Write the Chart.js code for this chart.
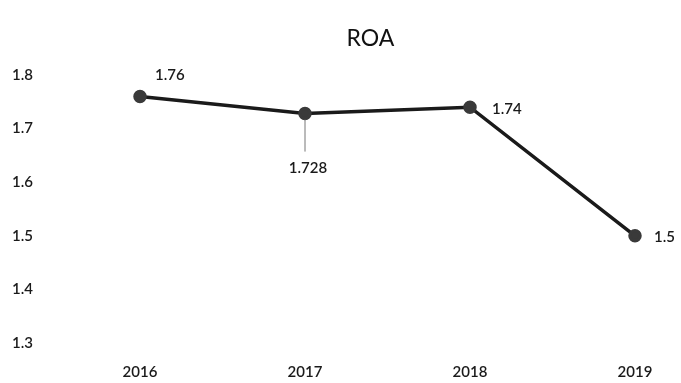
<!DOCTYPE html>
<html>
<head>
<meta charset="utf-8">
<script src="https://cdn.jsdelivr.net/npm/chart.js@4.4.1/dist/chart.umd.min.js"></script>
<style>
  body { margin: 0; background: #fff; }
  #wrap { width: 681px; height: 383px; }
</style>
</head>
<body>
<div id="wrap"><canvas id="roa_chart" width="681" height="383"></canvas></div>
<script>
var years = ['2016', '2017', '2018', '2019'];
var roaValues = [1.76, 1.728, 1.74, 1.5];
var valueLabels = ['1.76', '1.728', '1.74', '1.5'];
var chartTitle = 'ROA';

var fontFamily = "Lato, 'Open Sans', sans-serif";

// title centred over the plot area, and the value labels next to each point
var roaLabels = {
    id: 'roaLabels',
    afterDatasetsDraw: function (chart) {
        var ctx = chart.ctx;
        var area = chart.chartArea;
        var pts = chart.getDatasetMeta(0).data;
        ctx.save();
        ctx.fillStyle = '#111';
        ctx.font = '23px ' + fontFamily;
        ctx.textAlign = 'center';
        ctx.textBaseline = 'middle';
        ctx.fillText(chartTitle, (area.left + area.right) / 2 - 17, 39);

        ctx.font = '600 15px ' + fontFamily;
        ctx.fillStyle = '#1a1a1a';
        ctx.textAlign = 'left';
        // 2016: above right
        ctx.fillText(valueLabels[0], pts[0].x + 15, pts[0].y - 21);
        // 2017: below with leader line
        ctx.strokeStyle = '#777';
        ctx.lineWidth = 1;
        ctx.beginPath();
        ctx.moveTo(pts[1].x, pts[1].y + 6);
        ctx.lineTo(pts[1].x, pts[1].y + 38);
        ctx.stroke();
        ctx.textAlign = 'center';
        ctx.fillText(valueLabels[1], pts[1].x + 3, pts[1].y + 55);
        // 2018 and 2019: to the right
        ctx.textAlign = 'left';
        ctx.fillText(valueLabels[2], pts[2].x + 22, pts[2].y + 2);
        ctx.fillText(valueLabels[3], pts[3].x + 19, pts[3].y + 1);
        ctx.restore();
    }
};

var roa_chart = document.getElementById('roa_chart');
var My_roa_chart = new Chart(roa_chart, {
    type: 'line',
    data: {
        labels: years,
        datasets: [{
            data: roaValues,
            borderColor: '#1a1a1a',
            borderWidth: 3.5,
            pointRadius: 5,
            pointBackgroundColor: '#3a3a3a',
            pointBorderColor: '#3a3a3a',
            fill: false,
            tension: 0
        }]
    },
    options: {
        responsive: false,
        animation: false,
        layout: { padding: { left: 12, right: 46, top: 75, bottom: 2 } },
        plugins: {
            legend: { display: false },
            title: { display: false },
            tooltip: { enabled: false }
        },
        scales: {
            x: {
                offset: false,
                grid: { display: false },
                border: { display: false },
                afterFit: function (scale) { scale.height = 38; },
                ticks: {
                    color: '#1a1a1a',
                    font: { family: fontFamily, size: 15, weight: '600' },
                    padding: 12
                }
            },
            y: {
                min: 1.3,
                max: 1.8,
                grid: { display: false },
                border: { display: false },
                afterFit: function (scale) { scale.width = 128; },
                ticks: {
                    stepSize: 0.1,
                    crossAlign: 'far',
                    color: '#1a1a1a',
                    font: { family: fontFamily, size: 15, weight: '600' },
                    callback: function (v) { return v.toFixed(1); }
                }
            }
        }
    },
    plugins: [roaLabels]
});
</script>
</body>
</html>
